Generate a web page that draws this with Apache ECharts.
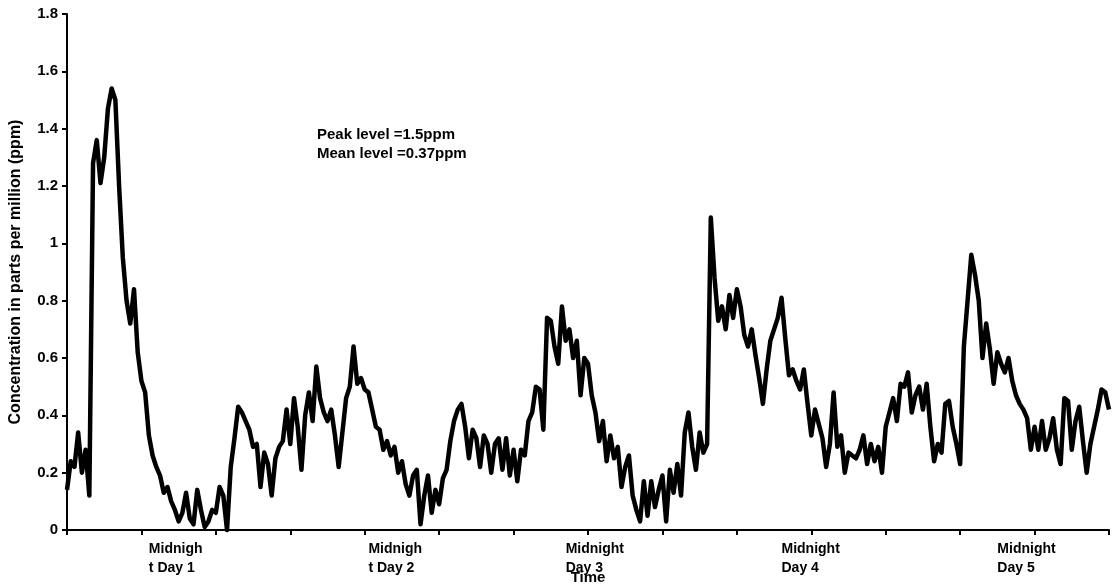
<!DOCTYPE html>
<html>
<head>
<meta charset="utf-8">
<title>Concentration</title>
<script src="https://cdn.jsdelivr.net/npm/echarts@6/dist/echarts.min.js"></script>
<style>
    html, body { margin: 0; padding: 0; background: #fff; }
    #box1 { width: 1112px; height: 588px; }
</style>
</head>
<body>
<div id="box1"></div>
<script>
// concentration readings (ppm), one sample every 1/20 of a tick interval
var part1 = [0.14, 0.24, 0.22, 0.34, 0.20, 0.28, 0.12, 1.28, 1.36, 1.21, 1.30, 1.47, 1.54, 1.50, 1.20, 0.95, 0.80, 0.72,
    0.84, 0.62, 0.52, 0.48, 0.33, 0.26, 0.22, 0.19, 0.13, 0.15, 0.10, 0.07, 0.03, 0.06, 0.13, 0.04, 0.02, 0.14, 0.07,
    0.01, 0.03, 0.07, 0.06, 0.15, 0.12, 0.00, 0.22, 0.32, 0.43, 0.41, 0.38, 0.35, 0.29, 0.30, 0.15, 0.27, 0.23, 0.12,
    0.25, 0.29, 0.31, 0.42, 0.30, 0.46, 0.36, 0.21, 0.40, 0.48, 0.38, 0.57, 0.46, 0.41];
var part2 = [0.38, 0.42, 0.33, 0.22, 0.34, 0.46, 0.50, 0.64, 0.51, 0.53, 0.49, 0.48, 0.42, 0.36, 0.35, 0.28, 0.31, 0.26,
    0.29, 0.20, 0.24, 0.16, 0.12, 0.19, 0.21, 0.02, 0.12, 0.19, 0.06, 0.14, 0.09, 0.18, 0.21, 0.31, 0.38, 0.42, 0.44,
    0.36, 0.25, 0.35, 0.32, 0.22, 0.33, 0.30, 0.20, 0.30, 0.32, 0.21, 0.32, 0.19, 0.28, 0.17, 0.28, 0.26, 0.38, 0.41,
    0.50, 0.49, 0.35, 0.74, 0.73, 0.64, 0.58, 0.78, 0.66, 0.70, 0.60, 0.66, 0.47, 0.60];
var part3 = [0.58, 0.47, 0.41, 0.31, 0.38, 0.24, 0.33, 0.25, 0.29, 0.15, 0.22, 0.26, 0.12, 0.07, 0.03, 0.17, 0.05, 0.17,
    0.08, 0.14, 0.19, 0.03, 0.21, 0.13, 0.23, 0.12, 0.34, 0.41, 0.29, 0.21, 0.34, 0.27, 0.30, 1.09, 0.88, 0.73, 0.78,
    0.70, 0.82, 0.74, 0.84, 0.78, 0.68, 0.64, 0.70, 0.61, 0.53, 0.44, 0.56, 0.66, 0.70, 0.74, 0.81, 0.67, 0.54, 0.56,
    0.52, 0.49, 0.56, 0.44, 0.33, 0.42, 0.37, 0.32, 0.22, 0.30, 0.48, 0.29, 0.33, 0.20];
var part4 = [0.27, 0.26, 0.25, 0.28, 0.33, 0.23, 0.30, 0.24, 0.29, 0.20, 0.36, 0.41, 0.46, 0.38, 0.51, 0.50, 0.55, 0.41,
    0.47, 0.50, 0.42, 0.51, 0.36, 0.24, 0.30, 0.27, 0.44, 0.45, 0.36, 0.30, 0.23, 0.64, 0.80, 0.96, 0.89, 0.80, 0.60,
    0.72, 0.63, 0.51, 0.62, 0.58, 0.55, 0.60, 0.52, 0.47, 0.44, 0.42, 0.39, 0.28, 0.36, 0.28, 0.38, 0.28, 0.32, 0.39,
    0.28, 0.23, 0.46, 0.45, 0.28, 0.38, 0.43, 0.31, 0.20, 0.30, 0.36, 0.42, 0.49, 0.48, 0.42];

var dayLabels = ['Midnigh\nt Day 1', 'Midnigh\nt Day 2', 'Midnight\nDay 3', 'Midnight\nDay 4', 'Midnight\nDay 5'];
var dayPositions = [22, 81, 134, 192, 250];

var concentration = part1.concat(part2, part3, part4);
var seriesData = concentration.map(function (v, i) { return [i, v]; });

var font = 'Liberation Sans';

var myChart = echarts.init(document.getElementById('box1'));
var option = {
    animation: false,
    backgroundColor: '#fff',
    textStyle: { fontFamily: font },
    title: {
        left: 312,
        top: 120,
        text: 'Peak level =1.5ppm\nMean level =0.37ppm',
        textStyle: {
            color: '#000',
            fontSize: 15,
            fontWeight: 'bold',
            lineHeight: 19,
            fontFamily: font
        }
    },
    grid: {
        left: 67,
        right: 3,
        top: 14,
        bottom: 58,
        outerBoundsMode: 'none'
    },
    xAxis: {
        type: 'value',
        min: 0,
        max: 280,
        interval: 20,
        name: 'Time',
        nameLocation: 'middle',
        nameGap: 40,
        nameMoveOverlap: false,
        nameTextStyle: { color: '#000', fontSize: 15, fontWeight: 'bold', fontFamily: font },
        splitLine: { show: false },
        axisLine: { lineStyle: { color: '#000', width: 2 } },
        axisTick: { length: 5, lineStyle: { color: '#000', width: 2 } },
        axisLabel: {
            customValues: dayPositions,
            align: 'left',
            margin: 10,
            color: '#000',
            fontSize: 14,
            fontWeight: 'bold',
            lineHeight: 19,
            formatter: function (v) {
                var k = dayPositions.indexOf(v);
                return k >= 0 ? dayLabels[k] : '';
            }
        }
    },
    yAxis: {
        type: 'value',
        min: 0,
        max: 1.8,
        interval: 0.2,
        name: 'Concentration in parts per million (ppm)',
        nameLocation: 'middle',
        nameRotate: 90,
        nameGap: 43,
        nameTextStyle: { color: '#000', fontSize: 16, fontWeight: 700, fontFamily: font },
        splitLine: { show: false },
        axisLine: { show: true, lineStyle: { color: '#000', width: 2 } },
        axisTick: { show: true, length: 5, lineStyle: { color: '#000', width: 2 } },
        axisLabel: { color: '#000', fontSize: 15, fontWeight: 'bold', margin: 9 }
    },
    series: [
        {
            type: 'line',
            data: seriesData,
            showSymbol: false,
            clip: false,
            lineStyle: { color: '#000', width: 4.5, join: 'round' }
        }
    ]
};

option && myChart.setOption(option);
</script>
</body>
</html>
